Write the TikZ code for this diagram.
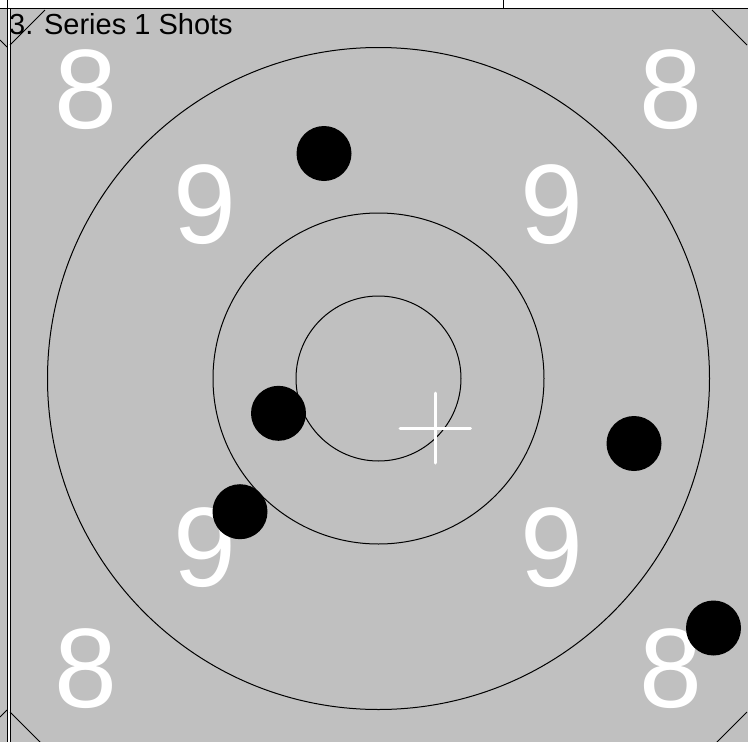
\documentclass[tikz,border=0pt]{standalone}
\usepackage{fontspec}
\setmainfont{Liberation Sans}
\definecolor{targetgray}{RGB}{192,192,192}
\begin{document}
\begin{tikzpicture}[x=1pt,y=-1pt,
  ring/.style={circle,draw=black,line width=1pt,inner sep=0pt},
  shot/.style={circle,fill=black,inner sep=0pt,minimum size=55pt},
  score/.style={text=white,inner sep=0pt,font=\fontsize{113}{113}\selectfont},
  frame/.style={line width=1pt,black},
  chamfer/.style={line width=0.8pt,black}]
\useasboundingbox (0,0) rectangle (748,742);
\fill[white] (0,0) rectangle (748,742);
\fill[targetgray] (0,8) rectangle (748,742);
\fill[white] (7,8) rectangle (10,742);
\begin{scope}
\clip (0,8) rectangle (748,742);
% octagon chamfers
\draw[chamfer] (10,45) -- (45,10);
\draw[chamfer] (712,10) -- (747,45);
\draw[chamfer] (10,712) -- (45,747);
\draw[chamfer] (747,712) -- (712,747);
% neighbouring panel's chamfers
\draw[chamfer] (0,40) -- (7,47);
\draw[chamfer] (7,710) -- (0,717);
% rings
\coordinate (c) at (378.5,378.5);
\node[ring,minimum size=662pt] (r8) at (c) {};
\node[ring,minimum size=331pt] (r9) at (c) {};
\node[ring,minimum size=165pt] (r10) at (c) {};
% scores
\node[score] (s8a) at (86,90) {8};
\node[score] (s8b) at (671,90) {8};
\node[score] (s8c) at (86,669) {8};
\node[score] (s8d) at (671,669) {8};
\node[score] (s9a) at (205,205) {9};
\node[score] (s9b) at (552,205) {9};
\node[score] (s9c) at (205,548) {9};
\node[score] (s9d) at (552,548) {9};
% aim cross
\coordinate (xl) at (400,428.5);
\coordinate (xr) at (470.5,428.5);
\coordinate (xt) at (435,393);
\coordinate (xb) at (435,463);
\draw[white,line width=3pt,line cap=round] (xl) -- (xr);
\draw[white,line width=3pt,line cap=round] (xt) -- (xb);
% shots
\node[shot] (p1) at (324,153.5) {};
\node[shot] (p2) at (278.5,413.3) {};
\node[shot] (p3) at (240,511.7) {};
\node[shot] (p4) at (634,443.5) {};
\node[shot] (p5) at (713.5,628) {};
\end{scope}
% frame lines
\draw[frame] (0,8) -- (748,8);
\draw[frame] (7,0) -- (7,742);
\draw[frame] (10,8) -- (10,742);
\draw[frame] (503,0) -- (503,8);
\node[anchor=base west,inner sep=0pt,font=\fontsize{29}{29}\selectfont] (title) at (9,34) {3. Series 1 Shots};
\end{tikzpicture}
\end{document}
